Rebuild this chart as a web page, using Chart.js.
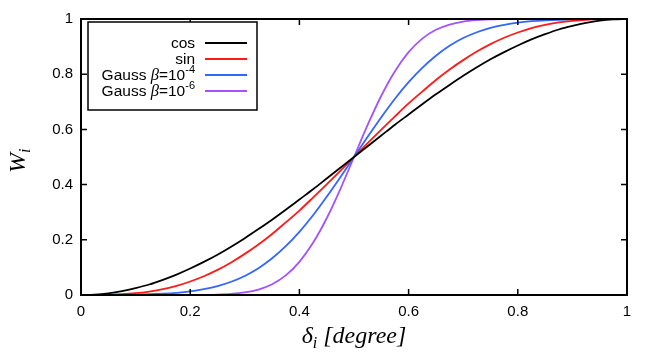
<!DOCTYPE html>
<html>
<head>
<meta charset="utf-8">
<script src="https://cdn.jsdelivr.net/npm/chart.js@4"></script>
<style>
  html, body { margin: 0; padding: 0; background: #fff; }
  #chart { display: block; }
</style>
</head>
<body>
<canvas id="chart" width="654" height="363"></canvas>
<script>
// weight W_i against delta_i (step 0.025)
const xs = [0, 0.025, 0.05, 0.075, 0.1, 0.125, 0.15, 0.175, 0.2, 0.225, 0.25, 0.275, 0.3, 0.325, 0.35, 0.375, 0.4, 0.425, 0.45, 0.475,
    0.5, 0.525, 0.55, 0.575, 0.6, 0.625, 0.65, 0.675, 0.7, 0.725, 0.75, 0.775, 0.8, 0.825, 0.85, 0.875, 0.9, 0.925, 0.95, 0.975, 1];
const cosW = [0, 0.0015, 0.006, 0.014, 0.025, 0.038, 0.055, 0.074, 0.096, 0.12, 0.146, 0.175, 0.206, 0.239, 0.273, 0.309, 0.346, 0.383, 0.422, 0.461,
    0.5, 0.539, 0.578, 0.617, 0.654, 0.691, 0.727, 0.761, 0.794, 0.825, 0.854, 0.88, 0.904, 0.926, 0.945, 0.962, 0.975, 0.986, 0.994, 0.9985, 1];
const sinW = [0, 0.0001, 0.0008, 0.0027, 0.0065, 0.0125, 0.021, 0.033, 0.049, 0.068, 0.091, 0.118, 0.149, 0.183, 0.221, 0.263, 0.306, 0.353, 0.401, 0.45,
    0.5, 0.55, 0.599, 0.647, 0.694, 0.737, 0.779, 0.817, 0.851, 0.882, 0.909, 0.932, 0.951, 0.967, 0.979, 0.9875, 0.9935, 0.9973, 0.9992, 0.9999, 1];
const gauss4W = [0, 0.0002, 0.0004, 0.0008, 0.0015, 0.0027, 0.0048, 0.008, 0.013, 0.021, 0.032, 0.048, 0.069, 0.097, 0.133, 0.177, 0.229, 0.289, 0.356, 0.427,
    0.5, 0.573, 0.644, 0.711, 0.771, 0.823, 0.867, 0.903, 0.931, 0.952, 0.968, 0.979, 0.987, 0.992, 0.9952, 0.9973, 0.9985, 0.9992, 0.9996, 0.9998, 1];
const gauss6W = [0, 0, 0, 0, 0, 0, 0, 0, 0.0002, 0.0006, 0.0016, 0.0041, 0.0093, 0.0198, 0.039, 0.071, 0.12, 0.189, 0.278, 0.384,
    0.5, 0.616, 0.722, 0.811, 0.88, 0.929, 0.961, 0.98, 0.9907, 0.9959, 0.9984, 0.9994, 0.9998, 1, 1, 1, 1, 1, 1, 1, 1];

const seriesNames = ["cos", "sin", "Gauss \u03b2=10", "Gauss \u03b2=10"];
const seriesSup = ["", "", "-4", "-6"];
const seriesColors = ["#000000", "#ff1a1a", "#3366ff", "#a352ff"];
const xTicks = [0, 0.2, 0.4, 0.6, 0.8, 1];
const yTicks = [0, 0.2, 0.4, 0.6, 0.8, 1];

const allW = [cosW, sinW, gauss4W, gauss6W];

const sansFont = "'Liberation Sans', Arial, sans-serif";
const serifFont = "'Liberation Serif', 'Times New Roman', serif";

function toPoints(ys) {
    return xs.map((x, i) => ({ x: x, y: ys[i] }));
}

function tickText(v) {
    return String(Math.round(v * 10) / 10);
}

// gnuplot-like frame: border, inward ticks, boxed legend, axis titles
const framePlugin = {
    id: "frame",
    afterDatasetsDraw(chart) {
        const ctx = chart.ctx;
        const area = chart.chartArea;
        const xs_ = chart.scales.x;
        const ys_ = chart.scales.y;
        const tickLen = 6;

        ctx.save();
        ctx.strokeStyle = "#000";
        ctx.lineWidth = 1.5;
        ctx.beginPath();
        xTicks.forEach(v => {
            const px = xs_.getPixelForValue(v);
            ctx.moveTo(px, area.bottom);
            ctx.lineTo(px, area.bottom - tickLen);
            ctx.moveTo(px, area.top);
            ctx.lineTo(px, area.top + tickLen);
        });
        yTicks.forEach(v => {
            const py = ys_.getPixelForValue(v);
            ctx.moveTo(area.left, py);
            ctx.lineTo(area.left + tickLen, py);
            ctx.moveTo(area.right, py);
            ctx.lineTo(area.right - tickLen, py);
        });
        ctx.stroke();

        ctx.lineWidth = 2;
        ctx.strokeRect(area.left, area.top, area.right - area.left, area.bottom - area.top);

        // legend box
        const box = { left: 88, top: 22, right: 257, bottom: 110 };
        ctx.fillStyle = "#fff";
        ctx.fillRect(box.left, box.top, box.right - box.left, box.bottom - box.top);
        ctx.lineWidth = 1.5;
        ctx.strokeRect(box.left, box.top, box.right - box.left, box.bottom - box.top);

        const textRight = 195;
        const rowY = [43, 59, 75, 91];
        const fs = 15.5;
        seriesNames.forEach((name, i) => {
            const y = rowY[i];
            ctx.fillStyle = "#000";
            ctx.textBaseline = "middle";
            ctx.textAlign = "left";
            let supW = 0;
            if (seriesSup[i]) {
                ctx.font = "11px " + sansFont;
                supW = ctx.measureText(seriesSup[i]).width;
            }
            ctx.font = fs + "px " + sansFont;
            const parts = name.split("\u03b2");
            if (parts.length > 1) {
                const a = ctx.measureText(parts[0]).width;
                ctx.font = "italic " + (fs + 1) + "px " + serifFont;
                const b = ctx.measureText("\u03b2").width;
                ctx.font = fs + "px " + sansFont;
                const c = ctx.measureText(parts[1]).width;
                let x = textRight - supW - (a + b + c);
                ctx.fillText(parts[0], x, y + 1);
                x += a;
                ctx.font = "italic " + (fs + 1) + "px " + serifFont;
                ctx.fillText("\u03b2", x, y + 1);
                x += b;
                ctx.font = fs + "px " + sansFont;
                ctx.fillText(parts[1], x, y + 1);
                x += c;
                ctx.font = "11px " + sansFont;
                ctx.fillText(seriesSup[i], x, y - 5);
            } else {
                const w = ctx.measureText(name).width;
                ctx.fillText(name, textRight - w, y + 1);
            }
            ctx.strokeStyle = seriesColors[i];
            ctx.lineWidth = 1.8;
            ctx.beginPath();
            ctx.moveTo(205, y);
            ctx.lineTo(247, y);
            ctx.stroke();
        });

        // x title: delta_i [degree]
        ctx.fillStyle = "#000";
        ctx.textBaseline = "alphabetic";
        ctx.textAlign = "left";
        const xMid = (area.left + area.right) / 2;
        ctx.font = "italic 24px " + serifFont;
        const dW = ctx.measureText("\u03b4").width;
        const rest = " [degree]";
        const rW = ctx.measureText(rest).width;
        ctx.font = "italic 16px " + serifFont;
        const iW = ctx.measureText("i").width;
        let tx = xMid - (dW + iW + rW) / 2;
        const base = 343;
        ctx.font = "italic 24px " + serifFont;
        ctx.fillText("\u03b4", tx, base);
        tx += dW;
        ctx.font = "italic 16px " + serifFont;
        ctx.fillText("i", tx, base + 5);
        tx += iW;
        ctx.font = "italic 24px " + serifFont;
        ctx.fillText(rest, tx, base);

        // y title: W_i
        ctx.translate(25, 160);
        ctx.rotate(-Math.PI / 2);
        ctx.font = "italic 24px " + serifFont;
        const wW = ctx.measureText("W").width;
        ctx.fillText("W", -wW / 2 - 3, 0);
        ctx.font = "italic 16px " + serifFont;
        ctx.fillText("i", wW / 2 - 3, 5);
        ctx.restore();
    }
};

new Chart("chart", {
    type: "line",
    data: {
        datasets: allW.map((ys, i) => ({
            label: seriesNames[i] + seriesSup[i],
            data: toPoints(ys),
            borderColor: seriesColors[i],
            borderWidth: 1.8,
            pointRadius: 0,
            fill: false,
            cubicInterpolationMode: "monotone"
        }))
    },
    options: {
        responsive: false,
        animation: false,
        devicePixelRatio: 1,
        layout: { padding: { top: 19, right: 27, left: 0, bottom: 0 } },
        plugins: {
            legend: { display: false },
            tooltip: { enabled: false }
        },
        scales: {
            x: {
                type: "linear",
                min: 0,
                max: 1,
                afterFit: s => { s.height = 68; },
                afterBuildTicks: s => { s.ticks = xTicks.map(v => ({ value: v })); },
                grid: { display: false, drawTicks: false },
                border: { display: false },
                ticks: {
                    padding: 8,
                    color: "#000",
                    callback: tickText,
                    font: { family: sansFont, size: 15 }
                }
            },
            y: {
                type: "linear",
                min: 0,
                max: 1,
                afterFit: s => { s.width = 81; },
                afterBuildTicks: s => { s.ticks = yTicks.map(v => ({ value: v })); },
                grid: { display: false, drawTicks: false },
                border: { display: false },
                ticks: {
                    padding: 8,
                    color: "#000",
                    callback: tickText,
                    font: { family: sansFont, size: 15 }
                }
            }
        }
    },
    plugins: [framePlugin]
});
</script>
</body>
</html>
